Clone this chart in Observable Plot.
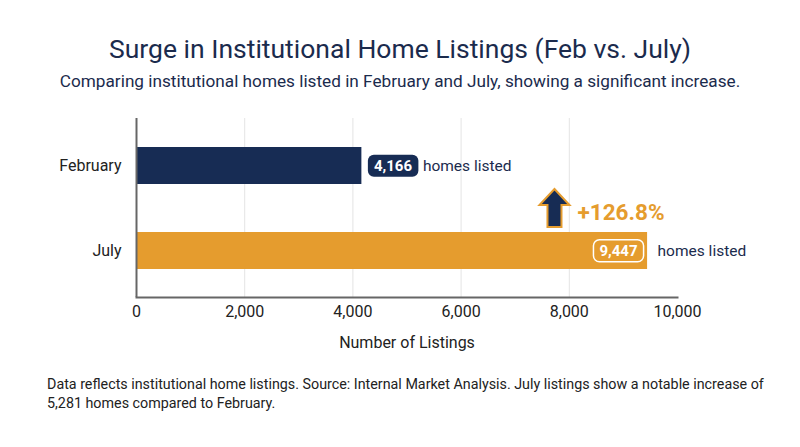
<!DOCTYPE html>
<html>
<head>
<meta charset="utf-8">
<script src="https://cdn.jsdelivr.net/npm/d3@7"></script>
<script src="https://cdn.jsdelivr.net/npm/@observablehq/plot@0.6"></script>
<style>
  html, body { margin: 0; padding: 0; background: #fff; }
  body { width: 800px; height: 447px; position: relative; overflow: hidden; font-family: Roboto, "Noto Sans", sans-serif; }
  #title { position: absolute; top: 33px; left: 0; width: 800px; text-align: center; font-size: 26.5px; color: #1b2b4d; line-height: 32px; }
  #subtitle { position: absolute; top: 69px; left: 0; width: 800px; text-align: center; font-size: 17.2px; color: #1b2b4d; line-height: 24px; }
  #chart { position: absolute; top: 100px; left: 0; }
  #caption { position: absolute; top: 375px; left: 47px; width: 720px; font-size: 14.3px; color: #222; line-height: 19px; }
</style>
</head>
<body>
<div id="title">Surge in Institutional Home Listings (Feb vs. July)</div>
<div id="subtitle">Comparing institutional homes listed in February and July, showing a significant increase.</div>
<div id="chart"></div>
<div id="caption">Data reflects institutional home listings. Source: Internal Market Analysis. July listings show a notable increase of 5,281 homes compared to February.</div>
<script>
const months = ["February", "July"];
const listings = [4166, 9447];
const xTicks = [0, 2000, 4000, 6000, 8000, 10000];
const gridTicks = [2000, 4000, 6000, 8000];
const unitLabel = "homes listed";
const changeLabel = "+126.8%";
const arrowX = [7726];

const NAVY = "#172c54";
const GOLD = "#e59c2e";

const data = months.map((m, i) => ({month: m, value: listings[i]}));
const feb = data.filter(d => d.month === "February");
const jul = data.filter(d => d.month === "July");

const arrowSymbol = {
  draw(ctx, size) {
    ctx.moveTo(0, -19);
    ctx.lineTo(15, -3);
    ctx.lineTo(7, -3);
    ctx.lineTo(7, 19);
    ctx.lineTo(-7, 19);
    ctx.lineTo(-7, -3);
    ctx.lineTo(-15, -3);
    ctx.closePath();
  }
};

const plot = Plot.plot({
  width: 800,
  height: 260,
  marginLeft: 136,
  marginRight: 123,
  marginTop: 18,
  marginBottom: 63,
  style: {fontFamily: "Roboto, sans-serif", fontSize: "16px", color: "#222", background: "transparent"},
  x: {domain: [0, 10000]},
  y: {domain: months, paddingInner: 0.565, paddingOuter: 0.335},
  marks: [
    Plot.ruleX(gridTicks, {stroke: "#e4e4e4", strokeWidth: 1}),
    Plot.barX(data, {x: "value", y: "month", fill: d => d.month === "July" ? GOLD : NAVY}),
    Plot.ruleX([0], {stroke: "#666", strokeWidth: 2}),
    Plot.frame({anchor: "bottom", stroke: "#666", strokeWidth: 2}),
    Plot.axisY({tickSize: 0, tickPadding: 15, fontSize: 16, label: null}),
    Plot.axisX({ticks: xTicks, tickSize: 0, tickPadding: 8, fontSize: 16, tickFormat: d3.format(","), label: "Number of Listings", labelArrow: false, labelAnchor: "center", labelOffset: 50}),
    Plot.text(feb, {x: "value", y: "month", text: d => d3.format(",")(d.value), dx: 12, textAnchor: "start", fill: "white", fontWeight: "bold", fontSize: 15, className: "valbox-feb"}),
    Plot.text(feb, {x: "value", y: "month", text: () => unitLabel, dx: 61, textAnchor: "start", fill: "#1b2b4d", fontSize: 15.5}),
    Plot.text(jul, {x: "value", y: "month", text: d => d3.format(",")(d.value), dx: -10, textAnchor: "end", fill: "white", fontWeight: "bold", fontSize: 15, className: "valbox-jul"}),
    Plot.text(jul, {x: "value", y: "month", text: () => unitLabel, dx: 10, textAnchor: "start", fill: "#1b2b4d", fontSize: 15.5}),
    Plot.dot(arrowX, {x: d => d, y: () => "July", dy: -43, symbol: arrowSymbol, r: 10, fill: NAVY, stroke: GOLD, strokeWidth: 2}),
    Plot.text(arrowX, {x: d => d, y: () => "July", text: () => changeLabel, dx: 23, dy: -38, textAnchor: "start", fill: GOLD, fontWeight: "bold", fontSize: 22.5})
  ]
});

document.getElementById("chart").appendChild(plot);

function addBox(cls, fill, stroke) {
  const g = plot.querySelector("g." + cls);
  if (!g) return;
  g.querySelectorAll("text").forEach(t => {
    const b = t.getBBox();
    const ns = "http://www.w3.org/2000/svg";
    const r = document.createElementNS(ns, "rect");
    const padX = 6, padY = 2;
    r.setAttribute("x", b.x - padX);
    r.setAttribute("y", b.y - padY);
    r.setAttribute("width", b.width + 2 * padX);
    r.setAttribute("height", b.height + 2 * padY);
    r.setAttribute("rx", 6);
    r.setAttribute("fill", fill);
    if (stroke) { r.setAttribute("stroke", stroke); r.setAttribute("stroke-width", 1.5); }
    const tr = t.getAttribute("transform");
    if (tr) r.setAttribute("transform", tr);
    g.insertBefore(r, t);
  });
}
addBox("valbox-feb", NAVY, null);
addBox("valbox-jul", "none", "#fff");
</script>
</body>
</html>
